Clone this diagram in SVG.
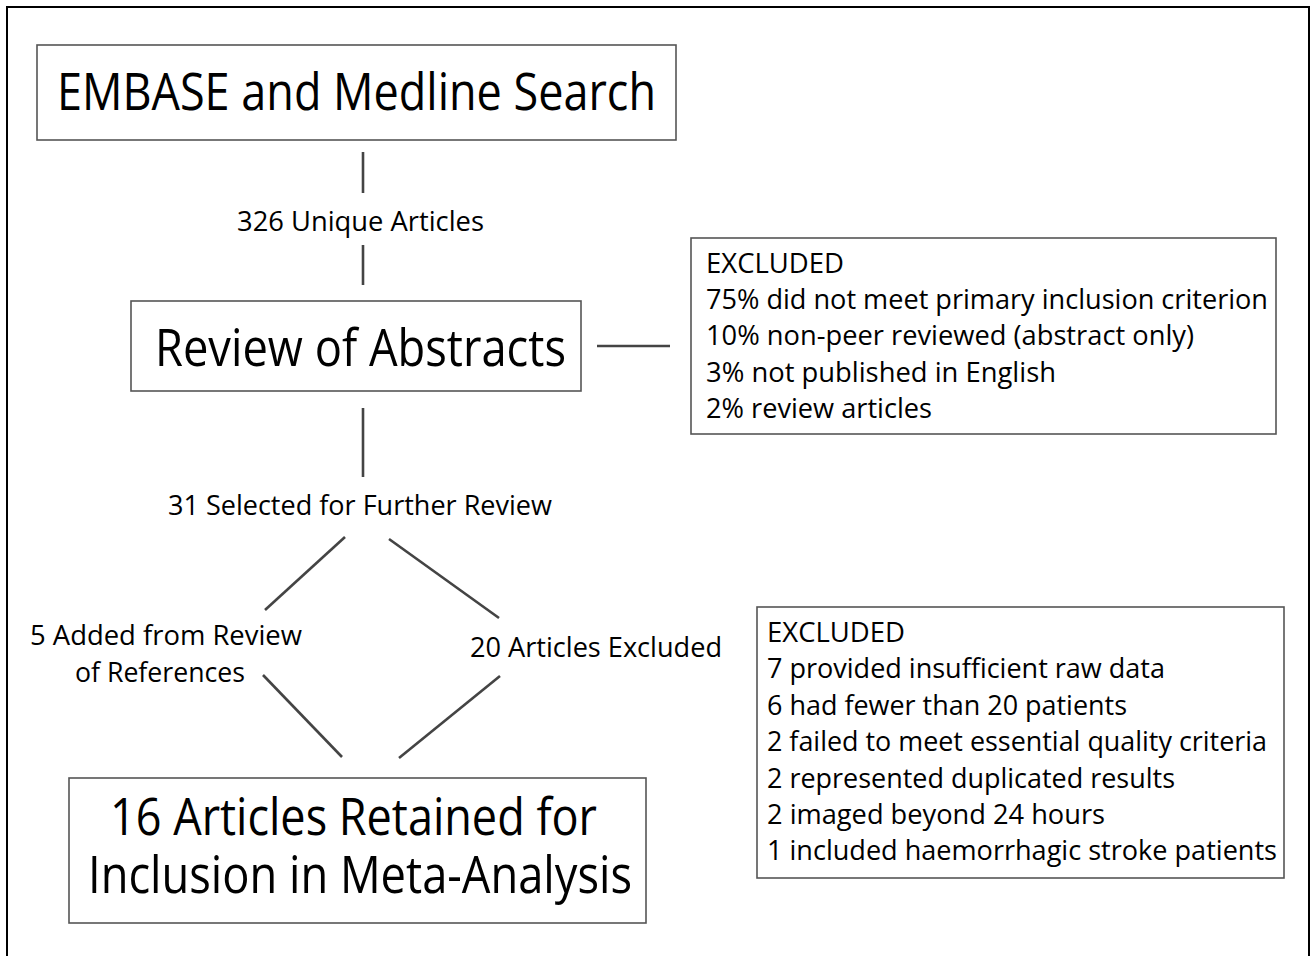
<svg xmlns="http://www.w3.org/2000/svg" width="1314" height="956" viewBox="0 0 1314 956">
<style>
.t{font-family:"Open Sans","Liberation Sans",sans-serif;fill:#000}
.big{font-size:51px}
.sm{font-size:27px}
.box{fill:#fff;stroke:#555;stroke-width:1.6}
.c{stroke:#444;stroke-width:2.6;fill:none;stroke-linecap:butt}
</style>
<rect x="0" y="0" width="1314" height="956" fill="#fff"/>
<rect x="7" y="7" width="1302" height="980" fill="none" stroke="#000" stroke-width="2"/>
<g id="connectors">
<line class="c" x1="363" y1="152" x2="363" y2="193"/>
<line class="c" x1="363" y1="245" x2="363" y2="285"/>
<line class="c" x1="597" y1="346" x2="670" y2="346"/>
<line class="c" x1="363" y1="408" x2="363" y2="477"/>
<line class="c" x1="345" y1="537" x2="265" y2="610"/>
<line class="c" x1="389" y1="539" x2="499" y2="618"/>
<line class="c" x1="263" y1="675" x2="342" y2="757"/>
<line class="c" x1="500" y1="676" x2="399" y2="758"/>
<text class="t sm" x="237" y="231" textLength="247" lengthAdjust="spacingAndGlyphs">326 Unique Articles</text>
<text class="t sm" x="168" y="515" textLength="384" lengthAdjust="spacingAndGlyphs">31 Selected for Further Review</text>
<text class="t sm" x="30" y="645" textLength="272" lengthAdjust="spacingAndGlyphs">5 Added from Review</text>
<text class="t sm" x="75" y="682" textLength="170" lengthAdjust="spacingAndGlyphs">of References</text>
<text class="t sm" x="470" y="657" textLength="252" lengthAdjust="spacingAndGlyphs">20 Articles Excluded</text>
</g>
<g id="search">
<rect class="box" x="37" y="45" width="639" height="95"/>
<text class="t big" x="57" y="110" textLength="599" lengthAdjust="spacingAndGlyphs">EMBASE and Medline Search</text>
</g>
<g id="abstracts">
<rect class="box" x="131" y="301" width="450" height="90"/>
<text class="t big" x="155" y="366" textLength="411" lengthAdjust="spacingAndGlyphs">Review of Abstracts</text>
</g>
<g id="excluded1">
<rect class="box" x="691" y="238" width="585" height="196"/>
<text class="t sm" x="706" y="273" textLength="138" lengthAdjust="spacingAndGlyphs">EXCLUDED</text>
<text class="t sm" x="706" y="309" textLength="562" lengthAdjust="spacingAndGlyphs">75% did not meet primary inclusion criterion</text>
<text class="t sm" x="706" y="345" textLength="488" lengthAdjust="spacingAndGlyphs">10% non-peer reviewed (abstract only)</text>
<text class="t sm" x="706" y="382" textLength="350" lengthAdjust="spacingAndGlyphs">3% not published in English</text>
<text class="t sm" x="706" y="418" textLength="226" lengthAdjust="spacingAndGlyphs">2% review articles</text>
</g>
<g id="retained">
<rect class="box" x="69" y="778" width="577" height="145"/>
<text class="t big" x="110" y="835" textLength="487" lengthAdjust="spacingAndGlyphs">16 Articles Retained for</text>
<text class="t big" x="88" y="893" textLength="544" lengthAdjust="spacingAndGlyphs">Inclusion in Meta-Analysis</text>
</g>
<g id="excluded2">
<rect class="box" x="757" y="607" width="527" height="271"/>
<text class="t sm" x="767" y="642" textLength="138" lengthAdjust="spacingAndGlyphs">EXCLUDED</text>
<text class="t sm" x="767" y="678" textLength="398" lengthAdjust="spacingAndGlyphs">7 provided insufficient raw data</text>
<text class="t sm" x="767" y="715" textLength="360" lengthAdjust="spacingAndGlyphs">6 had fewer than 20 patients</text>
<text class="t sm" x="767" y="751" textLength="500" lengthAdjust="spacingAndGlyphs">2 failed to meet essential quality criteria</text>
<text class="t sm" x="767" y="788" textLength="408" lengthAdjust="spacingAndGlyphs">2 represented duplicated results</text>
<text class="t sm" x="767" y="824" textLength="338" lengthAdjust="spacingAndGlyphs">2 imaged beyond 24 hours</text>
<text class="t sm" x="767" y="860" textLength="510" lengthAdjust="spacingAndGlyphs">1 included haemorrhagic stroke patients</text>
</g>
</svg>
